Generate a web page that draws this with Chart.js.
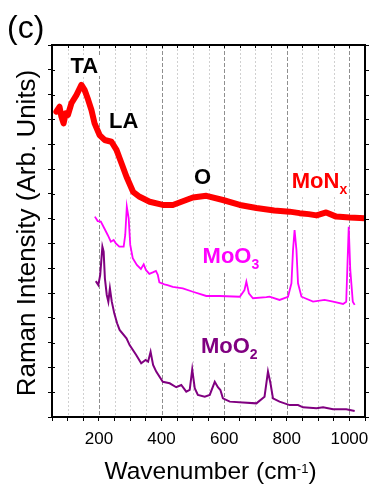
<!DOCTYPE html>
<html>
<head>
<meta charset="utf-8">
<script src="https://cdn.jsdelivr.net/npm/chart.js@4/dist/chart.umd.min.js"></script>
<style>
  html, body { margin: 0; padding: 0; background: #fff; }
  #wrap { width: 373px; height: 485px; }
</style>
</head>
<body>
<div id="wrap"><canvas id="raman" width="373" height="485"></canvas></div>
<script>
// Raman spectra (offset for clarity), wavenumber in cm-1, intensity in arbitrary units
const monxWave = [64, 74, 80, 87, 94, 101, 112, 128, 144, 154, 165, 176, 186, 202, 218, 240, 256, 272, 288, 309, 330, 362, 404, 436, 468, 500, 543, 596, 650, 703, 760, 809, 841, 870, 895, 926, 958, 1001, 1049];
const monxInt  = [12.31, 12.51, 12.11, 11.84, 12.25, 12.18, 12.65, 12.98, 13.39, 13.19, 12.81, 12.38, 11.84, 11.37, 11.17, 11.10, 10.77, 10.23, 9.69, 9.08, 8.88, 8.68, 8.55, 8.55, 8.70, 8.85, 8.92, 8.75, 8.55, 8.43, 8.33, 8.28, 8.22, 8.18, 8.13, 8.25, 8.08, 8.04, 8.01];

const moo3Wave = [187, 196, 206, 217, 228, 238, 247, 254, 265, 279, 284, 289, 295, 300, 308, 321, 334, 343, 350, 361, 372, 382, 388, 393, 409, 419, 436, 468, 500, 543, 586, 650, 665, 671, 679, 692, 735, 745, 777, 804, 815, 820, 825, 831, 836, 847, 884, 921, 948, 980, 990, 998, 1003, 1011, 1017];
const moo3Int  = [8.08, 7.90, 7.88, 7.61, 7.34, 7.07, 7.14, 7.00, 6.87, 6.87, 7.34, 8.48, 8.01, 6.94, 6.40, 6.13, 5.97, 6.16, 5.93, 5.77, 5.83, 5.89, 5.73, 5.43, 5.35, 5.32, 5.25, 5.19, 5.05, 4.88, 4.88, 4.85, 5.12, 5.46, 4.99, 4.79, 4.83, 4.85, 4.72, 4.85, 5.39, 6.73, 7.54, 6.73, 5.39, 4.85, 4.65, 4.72, 4.65, 4.56, 4.65, 7.67, 5.93, 4.65, 4.52];

const moo2Wave = [190, 198, 204, 211, 215, 219, 225, 230, 235, 241, 249, 258, 266, 288, 298, 319, 335, 349, 357, 365, 373, 383, 404, 426, 447, 463, 479, 490, 498, 506, 516, 538, 554, 570, 580, 588, 596, 618, 660, 703, 729, 740, 748, 756, 777, 809, 836, 852, 895, 916, 948, 990, 1017];
const moo2Int  = [5.48, 5.32, 5.73, 6.87, 6.67, 5.59, 4.92, 4.65, 5.19, 4.65, 4.18, 3.78, 3.51, 3.17, 2.90, 2.50, 2.17, 2.30, 2.23, 2.63, 2.10, 1.83, 1.42, 1.36, 1.20, 1.29, 1.02, 1.09, 1.92, 1.16, 0.89, 0.82, 0.89, 1.42, 1.20, 1.09, 0.75, 0.62, 0.58, 0.55, 0.82, 1.83, 1.36, 0.75, 0.62, 0.48, 0.48, 0.39, 0.35, 0.39, 0.31, 0.31, 0.24];

const xTickLabels = [200, 400, 600, 800, 1000];

const FONT = "'Liberation Sans', Arial, Helvetica, sans-serif";
const RED = '#ff0000', MAGENTA = '#ff00ff', PURPLE = '#800080';

const toPoints = (xs, ys) => xs.map((x, i) => ({ x: x, y: ys[i] }));

// text with an optional lowered subscript, left-aligned at (x, baseline)
function textWithSub(ctx, main, sub, x, y, size, color, bg) {
  ctx.font = 'bold ' + size + 'px ' + FONT;
  const w1 = ctx.measureText(main).width;
  const subSize = Math.round(size * 0.65);
  ctx.font = 'bold ' + subSize + 'px ' + FONT;
  const w2 = sub ? ctx.measureText(sub).width : 0;
  if (bg) {
    ctx.fillStyle = '#fff';
    ctx.fillRect(x - 2, y - size * 0.78, w1 + w2 + 4, size * 0.78 + (sub ? 8 : 3));
  }
  ctx.fillStyle = color;
  ctx.textAlign = 'left';
  ctx.textBaseline = 'alphabetic';
  ctx.font = 'bold ' + size + 'px ' + FONT;
  ctx.fillText(main, x, y);
  if (sub) {
    ctx.font = 'bold ' + subSize + 'px ' + FONT;
    ctx.fillText(sub, x + w1, y + 6);
  }
}

function centeredBold(ctx, str, cx, y, size, color) {
  ctx.font = 'bold ' + size + 'px ' + FONT;
  const w = ctx.measureText(str).width;
  ctx.fillStyle = '#fff';
  ctx.fillRect(cx - w / 2 - 2, y - size * 0.78, w + 4, size * 0.78 + 3);
  ctx.fillStyle = color;
  ctx.textAlign = 'center';
  ctx.textBaseline = 'alphabetic';
  ctx.fillText(str, cx, y);
}

const framePlugin = {
  id: 'frame',
  beforeDatasetsDraw(chart) {
    const { ctx, chartArea: a, scales: { x, y } } = chart;
    ctx.save();
    // vertical guide lines every 50 cm-1, stronger every 200 cm-1
    x.ticks.forEach(t => {
      if (t.value <= x.min || t.value >= x.max) return;
      const px = Math.round(x.getPixelForValue(t.value)) + 0.5;
      const major = t.value % 200 === 0;
      ctx.strokeStyle = major ? '#8f8f8f' : '#d0d0d0';
      ctx.lineWidth = 1;
      ctx.setLineDash(major ? [4, 2] : [2, 2]);
      ctx.beginPath();
      ctx.moveTo(px, a.top);
      ctx.lineTo(px, a.bottom);
      ctx.stroke();
    });
    ctx.setLineDash([]);

    // peak and sample labels
    const X = v => x.getPixelForValue(v), Y = v => y.getPixelForValue(v);
    centeredBold(ctx, 'TA', X(153), Y(13.87), 22, '#000');
    centeredBold(ctx, 'LA', X(279), Y(11.65), 22, '#000');
    centeredBold(ctx, 'O', X(531), Y(9.40), 22, '#000');
    textWithSub(ctx, 'MoN', 'x', X(816), Y(9.23), 22, RED, true);
    textWithSub(ctx, 'MoO', '3', X(531), Y(6.19), 22, MAGENTA, true);
    textWithSub(ctx, 'MoO', '2', X(526), Y(2.58), 22, PURPLE, true);
    ctx.restore();
  },
  afterDraw(chart) {
    const { ctx, chartArea: a, scales: { x, y } } = chart;
    ctx.save();
    ctx.strokeStyle = '#000';
    // top and right frame
    ctx.lineWidth = 2;
    ctx.beginPath();
    ctx.moveTo(a.left - 1, a.top);
    ctx.lineTo(a.right, a.top);
    ctx.lineTo(a.right, a.bottom + 1);
    ctx.stroke();
    // tick marks on the top, right and inner left edges
    ctx.lineWidth = 1;
    ctx.beginPath();
    x.ticks.forEach(t => {
      const px = Math.round(x.getPixelForValue(t.value)) + 0.5;
      ctx.moveTo(px, a.top);
      ctx.lineTo(px, a.top + 3);
    });
    y.ticks.forEach(t => {
      const py = Math.round(y.getPixelForValue(t.value)) + 0.5;
      ctx.moveTo(a.right, py);
      ctx.lineTo(a.right + 4, py);
      ctx.moveTo(a.left, py);
      ctx.lineTo(a.left + 3, py);
    });
    ctx.stroke();

    ctx.fillStyle = '#000';
    ctx.textBaseline = 'alphabetic';

    // panel letter
    ctx.textAlign = 'left';
    ctx.font = '32px ' + FONT;
    ctx.fillText('(c)', 7, 38);

    // x-axis title with superscript
    const main = 'Wavenumber (cm', sup = '-1', close = ')';
    ctx.font = '24.5px ' + FONT;
    const wMain = ctx.measureText(main).width, wClose = ctx.measureText(close).width;
    ctx.font = '13px ' + FONT;
    const wSup = ctx.measureText(sup).width;
    const cx = (a.left + a.right) / 2 + 2;
    let sx = cx - (wMain + wSup + wClose) / 2;
    const by = 479;
    ctx.font = '24.5px ' + FONT;
    ctx.fillText(main, sx, by);
    ctx.font = '13px ' + FONT;
    ctx.fillText(sup, sx + wMain, by - 6);
    ctx.font = '24.5px ' + FONT;
    ctx.fillText(close, sx + wMain + wSup, by);

    // y-axis title
    ctx.translate(35, (a.top + a.bottom) / 2 + 2);
    ctx.rotate(-Math.PI / 2);
    ctx.textAlign = 'center';
    ctx.font = '26px ' + FONT;
    ctx.fillText('Raman Intensity (Arb. Units)', 0, 0);
    ctx.restore();
  }
};

new Chart(document.getElementById('raman'), {
  type: 'line',
  data: {
    datasets: [
      { label: 'MoNx', data: toPoints(monxWave, monxInt), borderColor: RED, borderWidth: 6,
        pointRadius: 0, tension: 0, borderJoinStyle: 'round', borderCapStyle: 'round' },
      { label: 'MoO3', data: toPoints(moo3Wave, moo3Int), borderColor: MAGENTA, borderWidth: 1.8,
        pointRadius: 0, tension: 0 },
      { label: 'MoO2', data: toPoints(moo2Wave, moo2Int), borderColor: PURPLE, borderWidth: 2,
        pointRadius: 0, tension: 0 }
    ]
  },
  options: {
    responsive: false,
    animation: false,
    devicePixelRatio: 1,
    layout: { padding: { top: 45, right: 8, left: 0, bottom: 0 } },
    plugins: { legend: { display: false }, tooltip: { enabled: false } },
    scales: {
      x: {
        type: 'linear', min: 50, max: 1050,
        afterFit: s => { s.height = 68; },
        ticks: {
          stepSize: 50, autoSkip: false, maxRotation: 0, minRotation: 0, padding: 8,
          color: '#000', font: { family: FONT, size: 17 },
          callback: v => xTickLabels.includes(v) ? String(v) : ''
        },
        grid: { drawOnChartArea: false, drawTicks: true, tickLength: 4, tickColor: '#000', tickWidth: 1 },
        border: { display: true, color: '#000', width: 2 }
      },
      y: {
        type: 'linear', min: 0, max: 15,
        afterFit: s => { s.width = 52; },
        ticks: { display: false, stepSize: 1 },
        grid: { drawOnChartArea: false, drawTicks: true, tickLength: 4, tickColor: '#000', tickWidth: 1 },
        border: { display: true, color: '#000', width: 2 }
      }
    }
  },
  plugins: [framePlugin]
});
</script>
</body>
</html>
